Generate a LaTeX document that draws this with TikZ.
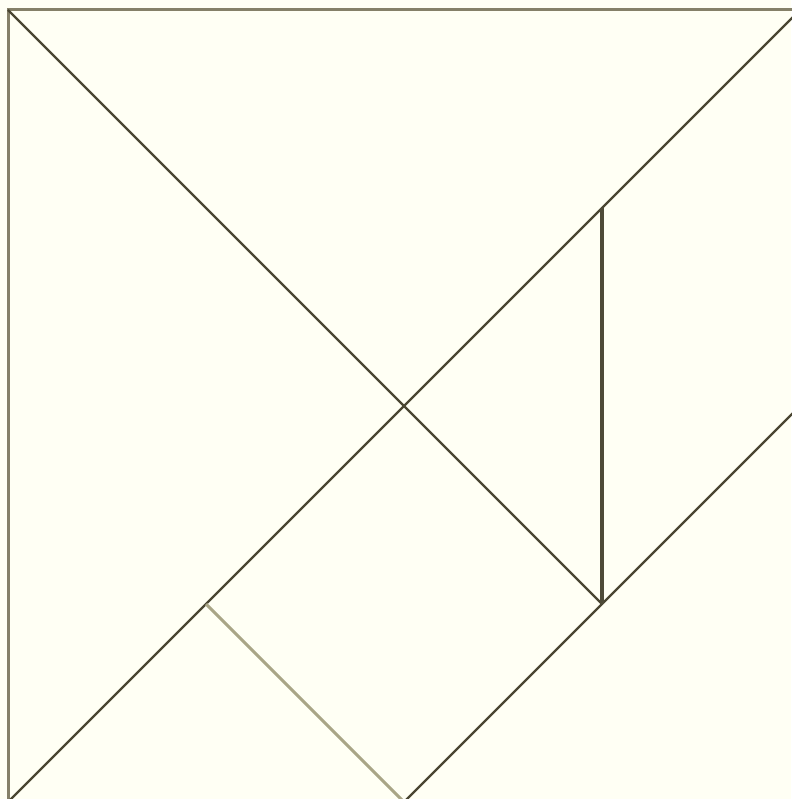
\documentclass[tikz,border=0pt]{standalone}
\definecolor{bg}{HTML}{FFFFF4}
\definecolor{edge}{HTML}{858068}
\definecolor{cut}{HTML}{4A4632}
\definecolor{dark}{HTML}{4E4B38}
\definecolor{light}{HTML}{A9A586}
\tikzset{
  edgeline/.style={draw=edge, line width=3pt},
  cutline/.style={draw=cut, line width=2.4pt},
  darkline/.style={draw=dark, line width=3.6pt},
  lightline/.style={draw=light, line width=3pt}
}
\begin{document}
\begin{tikzpicture}[x=1pt,y=-1pt]
\useasboundingbox (0,0) rectangle (791,799);
\fill[bg] (0,0) rectangle (791,799);
% square corners (square runs beyond the image on the right and bottom)
\coordinate (tl) at (8,10);
\coordinate (tr) at (800,10);
\coordinate (bl) at (8,802);
\coordinate (c) at (404,406);
\coordinate (p) at (602,604);
\coordinate (q) at (602,208);
\coordinate (r) at (800,406);
\coordinate (s) at (206,604);
\coordinate (u) at (404,802);
\draw[edgeline] (bl) -- (tl) -- (tr);
\draw[cutline] (tl) -- (c) -- (p);
\draw[cutline] (bl) -- (s) -- (c) -- (q) -- (tr);
\draw[cutline] (u) -- (p) -- (r);
\draw[darkline] (q) -- (p);
\draw[lightline] (s) -- (u);
\end{tikzpicture}
\end{document}
